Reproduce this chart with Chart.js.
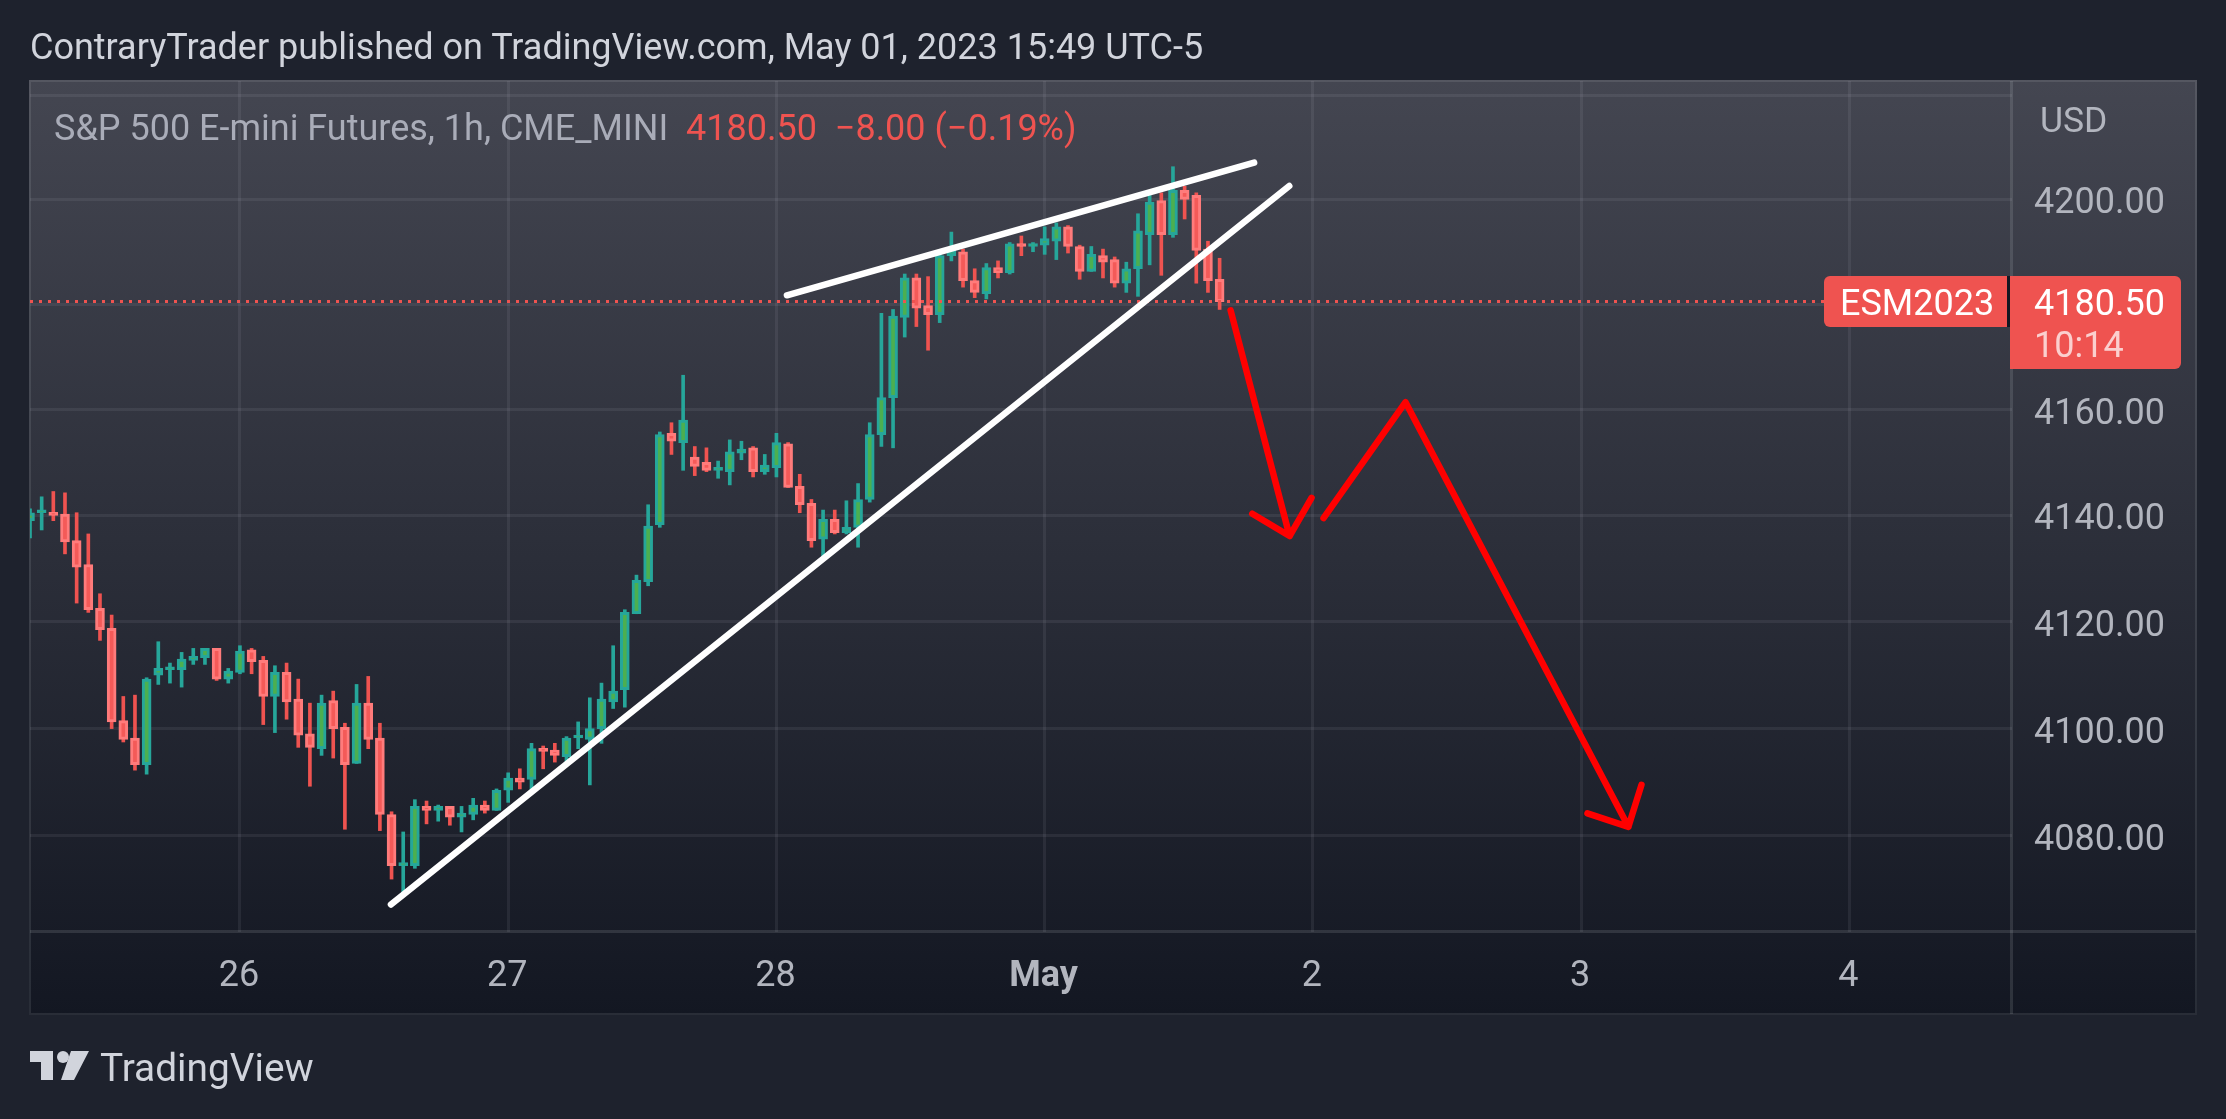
<!DOCTYPE html>
<html>
<head>
  <meta charset="UTF-8">
  <title>ESM2023 1h</title>
  <script src="https://cdn.jsdelivr.net/npm/chart.js"></script>
  <style>
    html, body { margin: 0; padding: 0; background: #1e222d; overflow: hidden; }
    body { width: 2226px; height: 1119px; position: relative; font-family: Roboto, sans-serif; }
    #frame {
      position: absolute; left: 29px; top: 80px; width: 2168px; height: 935px;
      box-sizing: border-box; border: 2px solid rgba(240, 243, 250, 0.1);
      background: linear-gradient(to bottom, #444651 0%, #131722 100%);
      background-origin: border-box;
    }
    canvas { position: absolute; left: 0; top: 0; }
    .sep { position: absolute; background: rgba(240, 243, 250, 0.12); }
    #sepTime { left: 30px; top: 930px; width: 2166px; height: 3px; }
    #sepPrice { left: 2010px; top: 81px; width: 3px; height: 933px; }
    .txt { position: absolute; white-space: nowrap; line-height: 1; }
    #publish { left: 30px; top: 29px; font-size: 36px; color: #d1d4dc; }
    #legend { left: 54px; top: 110px; font-size: 36px; color: #a9acb8; white-space: pre; }
    #legend .red { color: #ef5350; }
    #usd { left: 2040px; top: 103px; font-size: 35.5px; color: #b2b5be; }
    .tag { position: absolute; background: #ef5350; }
    #tagSymbol { left: 1824px; top: 276px; width: 183px; height: 51px; border-radius: 6px 0 0 6px; }
    #tagGap { position: absolute; left: 2007px; top: 276px; width: 3px; height: 51px; background: #131722; }
    #tagPrice { left: 2010px; top: 276px; width: 171px; height: 93px; border-radius: 0 6px 6px 0; }
    #symbol { left: 1840px; top: 285px; font-size: 36px; color: #fff; }
    #price { left: 2034px; top: 285px; font-size: 36px; color: #fff; }
    #countdown { left: 2034px; top: 327px; font-size: 36px; color: rgba(255, 255, 255, 0.72); }
    #logo { position: absolute; left: 30px; top: 1050px; }
    #brand { left: 100px; top: 1049px; font-size: 38.8px; color: #d1d4dc; }
  </style>
</head>
<body>
  <div id="frame"></div>
  <div class="sep" id="sepTime"></div>
  <div class="sep" id="sepPrice"></div>
  <canvas id="chart" width="2226" height="1119"></canvas>
  <div class="txt" id="publish">ContraryTrader published on TradingView.com, May 01, 2023 15:49 UTC-5</div>
  <div class="txt" id="legend">S&amp;P 500 E-mini Futures, 1h, CME_MINI  <span class="red">4180.50  −8.00 (−0.19%)</span></div>
  <div class="txt" id="usd">USD</div>
  <div class="tag" id="tagSymbol"></div>
  <div id="tagGap"></div>
  <div class="tag" id="tagPrice"></div>
  <div class="txt" id="symbol">ESM2023</div>
  <div class="txt" id="price">4180.50</div>
  <div class="txt" id="countdown">10:14</div>
  <svg id="logo" width="60" height="30" viewBox="0 0 60 30">
    <path d="M0 1H23V30H11V12H0Z M41 1H59L44 30H31Z" fill="#d1d4dc"/>
    <circle cx="33" cy="7" r="6" fill="#d1d4dc"/>
  </svg>
  <div class="txt" id="brand">TradingView</div>

  <script>
    // hourly candles
    const opens = [
      4139, 4140.5, 4140.5, 4140.25, 4135.25, 4130.75, 4122.5, 4118.75, 4101.5, 4098.25,
      4093.25, 4110, 4111, 4111, 4112.75, 4113.25, 4115, 4109.25, 4110.5, 4114.75,
      4112.75, 4106, 4110.5, 4105.5, 4099, 4096.25, 4105.25, 4100.25, 4093.5, 4104.75,
      4098.25, 4084, 4074.5, 4074.5, 4085.5, 4084.75, 4085.5, 4083.5, 4084, 4085.75,
      4084.75, 4088.5, 4090.75, 4090.5, 4096.25, 4096, 4094.75, 4098.25, 4098, 4100,
      4105, 4107.25, 4121.5, 4127.5, 4138.25, 4155.5, 4153.75, 4151, 4150, 4148.5,
      4148.25, 4151.75, 4152.75, 4148.25, 4149, 4153.5, 4145.5, 4142.25, 4135.5, 4139.25,
      4136.75, 4137.75, 4143, 4155.25, 4162.25, 4177.5, 4185, 4179.75, 4178, 4189.25,
      4190, 4184.5, 4182, 4187, 4186, 4191.5, 4191, 4191.25, 4192, 4194.75,
      4191, 4186.25, 4189.25, 4188.5, 4184, 4186.75, 4193.25, 4199.75, 4193.25, 4201.75,
      4200.75, 4190.5, 4184.75
    ];
    const highs = [
      4141.25, 4143.5, 4144.5, 4144.25, 4140.5, 4136.5, 4125.25, 4121.25, 4106, 4106.25,
      4109.5, 4116.25, 4112.25, 4114.25, 4115, 4115, 4115, 4111.25, 4115.5, 4115,
      4113.5, 4111.75, 4112.25, 4109.25, 4104.75, 4106.25, 4107, 4101, 4108.25, 4109.75,
      4101, 4084.5, 4080.75, 4086.75, 4086.5, 4085.75, 4085.5, 4085.5, 4087, 4086.5,
      4088.75, 4091.75, 4092.5, 4097.25, 4096.75, 4097.25, 4098.5, 4101.25, 4105.75, 4108.5,
      4115.5, 4122.25, 4128.75, 4142, 4155.75, 4157.5, 4166.5, 4153, 4152.75, 4150.25,
      4154.25, 4154, 4153, 4151.5, 4155.5, 4153.75, 4147.75, 4143, 4141, 4141,
      4142.75, 4146, 4157.5, 4178.25, 4179, 4185.75, 4185.75, 4185.25, 4189.5, 4193.75,
      4190.5, 4186.75, 4187.75, 4188.25, 4191.75, 4193, 4191.75, 4194.75, 4195.5, 4195,
      4191.25, 4191, 4190.5, 4189, 4188, 4197.25, 4200.75, 4201.25, 4206.25, 4202.5,
      4201.25, 4192, 4188.75
    ];
    const lows = [
      4135.75, 4137.25, 4139, 4132.75, 4123.5, 4121.75, 4116.5, 4100, 4097.5, 4092.25,
      4091.5, 4108.25, 4108.5, 4107.75, 4112, 4112, 4109, 4108.5, 4110.25, 4110.25,
      4100.75, 4099.25, 4101.75, 4096.5, 4089.25, 4095, 4094.5, 4081.25, 4093.5, 4096.25,
      4081, 4072, 4069.5, 4074, 4082.25, 4082.75, 4082, 4080.75, 4083, 4084.25,
      4084.75, 4086.25, 4088.75, 4088.5, 4092.5, 4093.75, 4093.5, 4096.25, 4089.5, 4097.25,
      4103.75, 4104, 4121.5, 4126.75, 4137.75, 4151.5, 4148.5, 4147.5, 4148.25, 4147,
      4145.75, 4150.5, 4147.25, 4147.75, 4147.25, 4145.25, 4140.5, 4134, 4132.25, 4136.5,
      4136.5, 4134, 4142.5, 4153, 4152.75, 4173.75, 4175.75, 4171.25, 4176.5, 4188.25,
      4183.25, 4181.25, 4181, 4185, 4185.75, 4189.25, 4190, 4189.5, 4188.5, 4189.75,
      4184.75, 4186.25, 4185, 4183.25, 4182.25, 4181.5, 4187.5, 4185.5, 4192.75, 4196.25,
      4184, 4182.25, 4179
    ];
    const closes = [
      4140.5, 4140.75, 4140, 4135, 4130.25, 4122.25, 4118.5, 4101.25, 4098, 4093.25,
      4109.25, 4111.25, 4111.25, 4113, 4113.5, 4115, 4109.25, 4110.75, 4114.5, 4112.5,
      4106, 4110.5, 4105, 4098.75, 4096.5, 4104.75, 4100, 4093.25, 4104.75, 4098,
      4084, 4074.5, 4074.75, 4085.5, 4084.75, 4085.5, 4083.5, 4084.25, 4085.75, 4084.75,
      4088.5, 4090.75, 4090, 4096.25, 4095.75, 4095, 4098.25, 4098.75, 4100, 4105.5,
      4107, 4121.75, 4127.75, 4138, 4155.25, 4154, 4158, 4149.25, 4148.5, 4148.75,
      4152, 4152.5, 4148.25, 4149.5, 4153.75, 4145.25, 4142, 4135.25, 4139.25, 4136.75,
      4137.75, 4143, 4155.25, 4162.25, 4177.75, 4185, 4179.25, 4178, 4189.25, 4190.25,
      4184.5, 4182.25, 4187, 4186, 4191.5, 4191, 4191.5, 4192.5, 4194.75, 4191,
      4186.25, 4189.5, 4188, 4184, 4186.75, 4194, 4199.5, 4193.25, 4201.75, 4200,
      4190.25, 4184.5, 4180.5
    ];

    // axis ticks (x is the bar number)
    const dayTicks = [18, 41, 64, 87, 110, 133, 156];
    const dayLabels = ['26', '27', '28', 'May', '2', '3', '4'];
    const priceTicks = [4220, 4200, 4180, 4160, 4140, 4120, 4100, 4080];
    const hiddenPriceTicks = [4220, 4180]; // covered by USD and the price tag
    const lastPrice = 4180.5;

    // hand drawn lines on the chart, bar number / price
    const lowerTrendX = [30.95, 107.97];
    const lowerTrendY = [4067.3, 4202.55];
    const upperTrendX = [64.9, 104.96];
    const upperTrendY = [4181.7, 4207.05];
    const firstArrowX = [102.94, 108, 104.8, 108, 109.88];
    const firstArrowY = [4178.84, 4136.1, 4140.3, 4136.1, 4143.3];
    const secondArrowX = [110.91, 117.94, 137.05, 133.54, 137.05, 138.17];
    const secondArrowY = [4139.5, 4161.4, 4081.7, 4084.2, 4081.7, 4089.5];

    const upColor = '#26a69a';
    const upFill = '#4caf50';
    const downColor = '#ef5350';
    const downBorder = '#ff7b7b';
    const gridColor = 'rgba(240, 243, 250, 0.07)';
    const axisFont = { family: 'Roboto', size: 36 };

    const isUp = i => closes[i] >= opens[i];
    const toPoints = (xs, ys) => xs.map((x, i) => ({ x: x, y: ys[i] }));

    const drawing = (xs, ys, color) => ({
      type: 'line',
      data: toPoints(xs, ys),
      borderColor: color,
      borderWidth: 6.5,
      borderCapStyle: 'round',
      borderJoinStyle: 'round',
      pointRadius: 0,
      order: 0
    });

    new Chart(document.getElementById('chart'), {
      type: 'bar',
      data: {
        datasets: [
          drawing(secondArrowX, secondArrowY, '#ff0000'),
          drawing(firstArrowX, firstArrowY, '#ff0000'),
          drawing(upperTrendX, upperTrendY, '#ffffff'),
          drawing(lowerTrendX, lowerTrendY, '#ffffff'),
          {
            type: 'line',
            data: [{ x: 0, y: lastPrice }, { x: 170, y: lastPrice }],
            borderColor: downColor,
            borderWidth: 3,
            borderDash: [3, 6],
            pointRadius: 0,
            order: 1
          },
          {
            // candle bodies
            data: opens.map((o, i) => ({ x: i, y: [o, closes[i]] })),
            barThickness: 9,
            minBarLength: 3,
            grouped: false,
            borderWidth: 3,
            borderSkipped: false,
            backgroundColor: opens.map((o, i) => isUp(i) ? upFill : '#f45a58'),
            borderColor: opens.map((o, i) => isUp(i) ? upColor : downBorder),
            order: 2
          },
          {
            // wicks
            data: lows.map((l, i) => ({ x: i, y: [l, highs[i]] })),
            barThickness: 3,
            grouped: false,
            borderWidth: 0,
            backgroundColor: opens.map((o, i) => isUp(i) ? upColor : downColor),
            order: 3
          }
        ]
      },
      options: {
        responsive: false,
        animation: false,
        devicePixelRatio: 1,
        layout: { padding: { left: 30, top: 81, right: 30, bottom: 105 } },
        plugins: { legend: { display: false }, tooltip: { enabled: false } },
        scales: {
          x: {
            type: 'linear',
            offset: false,
            bounds: 'data',
            min: 0,
            max: 169.94,
            grid: { color: gridColor, lineWidth: 3, drawTicks: false, offset: false },
            border: { display: false },
            afterBuildTicks: scale => { scale.ticks = dayTicks.map(v => ({ value: v })); },
            afterFit: scale => { scale.height = 82; },
            ticks: {
              autoSkip: false,
              maxRotation: 0,
              padding: 23,
              labelOffset: -1,
              color: '#b2b5be',
              font: c => ({ ...axisFont, weight: c.tick && c.tick.value === 87 ? 'bold' : 'normal' }),
              callback: v => dayLabels[dayTicks.indexOf(v)]
            }
          },
          y: {
            type: 'logarithmic',
            position: 'right',
            bounds: 'data',
            min: 4062.2,
            max: 4222.7,
            grid: { color: gridColor, lineWidth: 3, drawTicks: false },
            border: { display: false },
            afterBuildTicks: scale => { scale.ticks = priceTicks.map(v => ({ value: v })); },
            afterFit: scale => { scale.width = 184; },
            ticks: {
              autoSkip: false,
              padding: 22,
              labelOffset: 5,
              color: '#b2b5be',
              font: axisFont,
              callback: v => hiddenPriceTicks.includes(v) ? '' : v.toFixed(2)
            }
          }
        }
      }
    });
  </script>
</body>
</html>
